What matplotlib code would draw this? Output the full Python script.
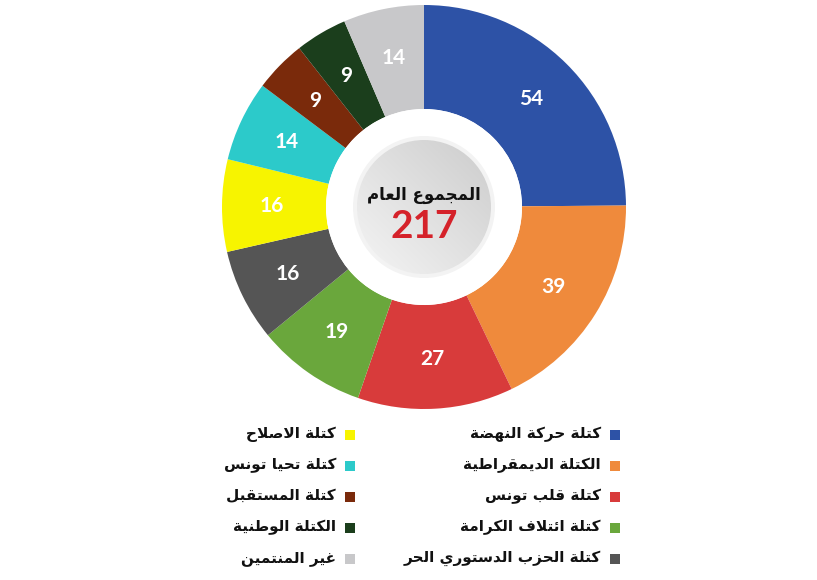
import numpy as np
import matplotlib
matplotlib.use("Agg")
import matplotlib.pyplot as plt
from matplotlib.patches import Circle, Rectangle

# ---------------- data ----------------
labels = ["كتلة حركة النهضة", "الكتلة الديمقراطية", "كتلة قلب تونس",
          "كتلة ائتلاف الكرامة", "كتلة الحزب الدستوري الحر",
          "كتلة الاصلاح", "كتلة تحيا تونس", "كتلة المستقبل",
          "الكتلة الوطنية", "غير المنتمين"]
values = [54, 39, 27, 19, 16, 16, 14, 9, 9, 14]
colors = ["#2d52a6", "#ef8a3c", "#d83b3b", "#6aa73c", "#555555",
          "#f7f400", "#2ccaca", "#7a2a0b", "#1b3e1c", "#c8c8ca"]
total_label = "المجموع العام"
total_value = sum(values)

# ---------------- simple Arabic shaper ----------------
FORMS = {  # iso, fin, ini, med
    'ا': (0xFE8D, 0xFE8E, None, None), 'ب': (0xFE8F, 0xFE90, 0xFE91, 0xFE92),
    'ة': (0xFE93, 0xFE94, None, None), 'ت': (0xFE95, 0xFE96, 0xFE97, 0xFE98),
    'ج': (0xFE9D, 0xFE9E, 0xFE9F, 0xFEA0), 'ح': (0xFEA1, 0xFEA2, 0xFEA3, 0xFEA4),
    'د': (0xFEA9, 0xFEAA, None, None), 'ر': (0xFEAD, 0xFEAE, None, None),
    'ز': (0xFEAF, 0xFEB0, None, None), 'س': (0xFEB1, 0xFEB2, 0xFEB3, 0xFEB4),
    'ص': (0xFEB9, 0xFEBA, 0xFEBB, 0xFEBC), 'ض': (0xFEBD, 0xFEBE, 0xFEBF, 0xFEC0),
    'ط': (0xFEC1, 0xFEC2, 0xFEC3, 0xFEC4), 'ع': (0xFEC9, 0xFECA, 0xFECB, 0xFECC),
    'غ': (0xFECD, 0xFECE, 0xFECF, 0xFED0), 'ف': (0xFED1, 0xFED2, 0xFED3, 0xFED4),
    'ق': (0xFED5, 0xFED6, 0xFED7, 0xFED8), 'ك': (0xFED9, 0xFEDA, 0xFEDB, 0xFEDC),
    'ل': (0xFEDD, 0xFEDE, 0xFEDF, 0xFEE0), 'م': (0xFEE1, 0xFEE2, 0xFEE3, 0xFEE4),
    'ن': (0xFEE5, 0xFEE6, 0xFEE7, 0xFEE8), 'ه': (0xFEE9, 0xFEEA, 0xFEEB, 0xFEEC),
    'و': (0xFEED, 0xFEEE, None, None), 'ي': (0xFEF1, 0xFEF2, 0xFEF3, 0xFEF4),
    'ئ': (0xFE89, 0xFE8A, 0xFE8B, 0xFE8C),
}


def dual(c):
    return c in FORMS and FORMS[c][2] is not None


def joining(c):
    return c in FORMS


def shape(text):
    out = []
    chars = list(text)
    i = 0
    n = len(chars)
    while i < n:
        c = chars[i]
        prev = chars[i - 1] if i > 0 else None
        jp = prev is not None and dual(prev) and joining(c)
        if c == 'ل' and i + 1 < n and chars[i + 1] == 'ا':
            out.append(chr(0xFEFC if jp else 0xFEFB))
            i += 2
            continue
        if c not in FORMS:
            out.append(c)
            i += 1
            continue
        nxt = chars[i + 1] if i + 1 < n else None
        jn = dual(c) and nxt is not None and joining(nxt)
        iso, fin, ini, med = FORMS[c]
        if jp and jn:
            cp = med
        elif jp:
            cp = fin
        elif jn:
            cp = ini
        else:
            cp = iso
        out.append(chr(cp))
        i += 1
    return ''.join(reversed(out))


# ---------------- figure ----------------
W, H = 817, 580
fig = plt.figure(figsize=(W / 100, H / 100), dpi=100)
ax = fig.add_axes([0, 0, 1, 1])

cx, cy = 424, H - 207
R = 202
wedges, _ = ax.pie(values, colors=colors, startangle=90, counterclock=False,
                   center=(cx, cy), radius=R, frame=True,
                   wedgeprops=dict(width=R - 98, edgecolor='none', linewidth=0))
ax.set_xlim(0, W)
ax.set_ylim(0, H)
ax.set_aspect('equal')
ax.axis('off')

# value labels
tot = float(sum(values))
ang = 90.0
rl = 152
for v, col in zip(values, colors):
    mid = ang - v / tot * 360 / 2
    ang -= v / tot * 360
    x = cx + rl * np.cos(np.radians(mid))
    y = cy + rl * np.sin(np.radians(mid))
    ax.text(x, y, str(v), ha='center', va='center', color='white',
            fontsize=15, fontweight='bold', family='Lato')

# centre decoration
ax.add_patch(Circle((cx, cy), 98, facecolor='white', edgecolor='none', zorder=3))
ax.add_patch(Circle((cx, cy), 71, facecolor='#f3f3f3', edgecolor='none', zorder=3))
g = np.linspace(0, 1, 200)
gx, gy = np.meshgrid(g, g)
grad = 0.80 + 0.08 * (1 - gx) + 0.08 * gy
img = ax.imshow(np.dstack([grad, grad, grad]), extent=(cx - 68, cx + 68, cy - 68, cy + 68),
                zorder=4, interpolation='bilinear')
img.set_clip_path(Circle((cx, cy), 67, transform=ax.transData))
ax.set_xlim(0, W)
ax.set_ylim(0, H)

ax.text(cx, cy + 12, shape(total_label), ha='center', va='center', fontsize=12,
        fontweight='bold', family='DejaVu Sans', color='#111111', zorder=5)
ax.text(cx, cy - 20, str(total_value), ha='center', va='center', fontsize=28,
        fontweight='bold', family='Lato', color='#d5222a', zorder=5)

# legend
rows_y = [435, 466, 497, 528, 559]
for i, (lab, col) in enumerate(zip(labels, colors)):
    if i < 5:
        sx, tx = 615, 601
    else:
        sx, tx = 350, 336
    y = H - rows_y[i % 5]
    ax.add_patch(Rectangle((sx - 5, y - 5), 10, 10, facecolor=col, edgecolor='none'))
    ax.text(tx, y + 1, shape(lab), ha='right', va='center', fontsize=11,
            fontweight='bold', family='DejaVu Sans', color='#111111')

fig.savefig('out.png', dpi=100)
